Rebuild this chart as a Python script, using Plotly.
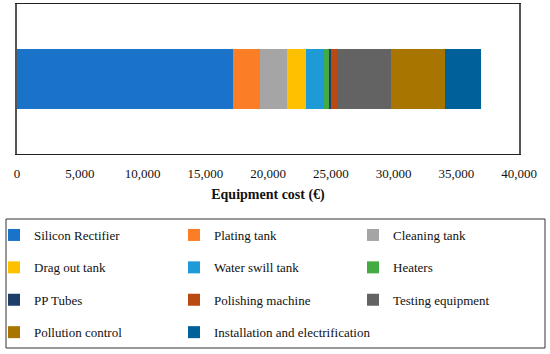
import plotly.graph_objects as go

categories = ["Silicon Rectifier", "Plating tank", "Cleaning tank", "Drag out tank",
              "Water swill tank", "Heaters", "PP Tubes", "Polishing machine",
              "Testing equipment", "Pollution control", "Installation and electrification"]
costs = [17200, 2200, 2100, 1500, 1500, 350, 200, 450, 4300, 4300, 2900]
colors = ["#1a73c9", "#fb7d25", "#a5a5a5", "#ffc000", "#1e9ad6", "#44aa44",
          "#1d3d6b", "#b84a12", "#636363", "#a87500", "#00609a"]
tick_vals = [0, 5000, 10000, 15000, 20000, 25000, 30000, 35000, 40000]
x_title = "Equipment cost (€)"

FONT = "Liberation Serif"
W, H = 550, 354
ml, mr, mt, mb = 17, 31, 4, 200
pw, ph = W - ml - mr, H - mt - mb

def px_x(p):
    return (p - ml) / pw

def px_y(p):
    return (H - mb - p) / ph

legend_names = ["legend", "legend2", "legend3"]
col_left = [-6, 174, 353]

fig = go.Figure()
for i, (name, val, col) in enumerate(zip(categories, costs, colors)):
    fig.add_trace(go.Bar(
        x=[val], y=[""], orientation="h", name=name,
        marker=dict(color=col, line=dict(width=0)),
        legend=legend_names[i % 3], legendgroup=name,
        hovertemplate=name + ": %{x:,}<extra></extra>",
    ))

layout_legends = {}
for c, ln in enumerate(legend_names):
    layout_legends[ln] = dict(
        orientation="v", x=px_x(col_left[c]), xanchor="left", y=px_y(220), yanchor="top",
        bgcolor="rgba(0,0,0,0)", traceorder="grouped", tracegroupgap=12.5,
        font=dict(family=FONT, size=13, color="#111"),
    )

fig.update_layout(
    width=W, height=H,
    margin=dict(l=ml, r=mr, t=mt, b=mb, autoexpand=False),
    paper_bgcolor="white", plot_bgcolor="white",
    barmode="stack", bargap=0.6,
    showlegend=True,
    font=dict(family=FONT, size=13, color="#111"),
    xaxis=dict(range=[0, 40000], tickvals=tick_vals, tickformat=",", showgrid=False,
               zeroline=False, showline=True, linecolor="#222", linewidth=1, mirror=True,
               ticks="", ticklabelstandoff=7, tickfont=dict(family=FONT, size=13, color="#111"),
               title=dict(text="<b>" + x_title + "</b>", font=dict(family=FONT, size=14, color="#111"),
                          standoff=9)),
    yaxis=dict(showticklabels=False, showgrid=False, zeroline=False, showline=True,
               linecolor="#555", linewidth=1.5, mirror=True, ticks=""),
    shapes=[dict(type="rect", xref="paper", yref="paper",
                 x0=px_x(6), x1=px_x(545), y0=px_y(219), y1=px_y(348),
                 line=dict(color="#333", width=1), fillcolor="rgba(0,0,0,0)")],
    **layout_legends,
)

fig.write_html("out.html", config={"displayModeBar": False},
               post_script="document.body.style.margin='0';document.body.style.overflow='hidden';")
